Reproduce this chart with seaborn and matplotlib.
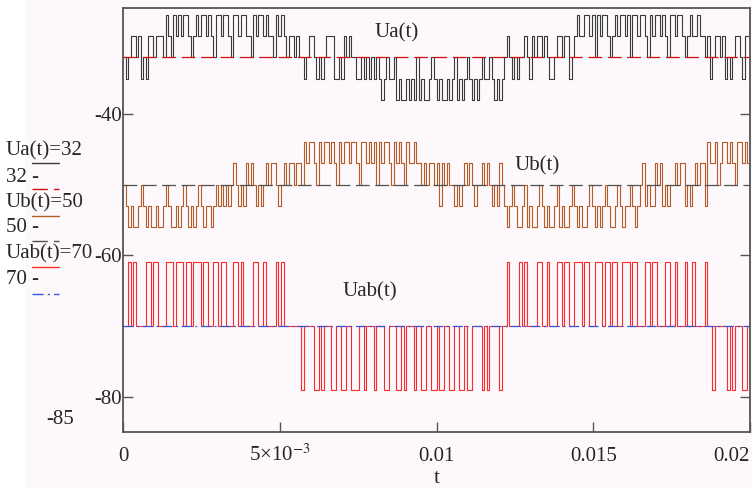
import numpy as np
import pandas as pd
import matplotlib
matplotlib.use("Agg")
import matplotlib.pyplot as plt
from matplotlib.lines import Line2D
from matplotlib.patches import Rectangle
import seaborn as sns

# level codes, one character per time step (0.02 s span)
ua_code = ("21233231213323332"
           "4324343443" "2343443432" "4434432443" "4433243443" "43324343"
           "2332322" "12332121233" "311213232" "21121212"
           "1210121120" "1001010201" "0012101001" "0120101210" "1012112101" "01"
           "23212122321" "32332321123323312"
           "3433443424" "3443234344" "3424434432" "4344343244" "3443234334" "3323"
           "12332312123321331")
ub_code = ("2101001210" "1001001210" "0101210101" "21011012"
           "12121" "2321213232" "12123233212" "32332332"
           "4344324344" "3432434434" "4324434342" "4344324343" "24334332"
           "323323" "1323221212" "3232122323" "2121321"
           "0121001201" "0012101001" "2010012101" "0012101012" "1001210112" "101"
           "2312113231" "2122323312" "1232331"
           "433423443432443434")
uab_code = ("1121211112" "2122111222" "1222122122" "2122112212" "2111221211" "1122112111" "12121"
            "111111"
            "0111100101" "1100110011" "0001101110" "1110011100" "1011101100" "1100100110"
            "0110010011" "1101011110" "1"
            "1"
            "2111121211" "1122112111" "2212211222" "1221122212" "2122112221" "2211122122"
            "1112211211" "1211211112"
            "1"
            "10111110101110010")

# voltage value of each code
ua_levels = [-38, -35, -32, -29, -26]
ub_levels = [-56, -53, -50, -47, -44]
uab_levels = [-79, -70, -61]
ref_levels = {"32": -32, "50": -50, "70": -70}

t_end = 0.02
x_ticks = [0, 0.005, 0.01, 0.015, 0.02]
x_ticklabels = ["0", "5\u00d710$^{-3}$", "0.01", "0.015", "0.02"]
y_ticks = [-80, -60, -40]
y_ticklabels = ["-80", "-60", "-40"]


def trace(code, levels):
    t = np.linspace(0, t_end, len(code))
    v = np.array([levels[int(c)] for c in code], dtype=float)
    return pd.DataFrame({"t": t, "v": v})


ua = trace(ua_code, ua_levels)
ub = trace(ub_code, ub_levels)
uab = trace(uab_code, uab_levels)

sns.set_theme(style="white")
plt.rcParams["font.family"] = ["Liberation Serif", "DejaVu Serif"]
plt.rcParams["mathtext.fontset"] = "stix"
fs = 15

W, H = 752, 488
bg = "#fcf8fc"
fig = plt.figure(figsize=(W / 100, H / 100), dpi=100, facecolor=bg)
ax = fig.add_axes([123 / W, 1 - 432 / H, 627 / W, 424 / H])
ax.set_facecolor(bg)
fig.add_artist(Rectangle((0, 0), 25 / W, 1, transform=fig.transFigure,
                         facecolor="white", edgecolor="none", zorder=-5))

c_ua = "#3a3a3a"
c_ub = "#b65a26"
c_uab = "#ff2a2a"
c32 = "#d01010"
c50 = "#505050"
c70 = "#3355dd"
dash = (0, (11, 4.5))
dashdot = (0, (8, 3, 1.5, 3))


def const(val):
    return pd.DataFrame({"t": ua["t"], "v": np.full(len(ua), val)})


sns.lineplot(data=ua, x="t", y="v", ax=ax, color=c_ua, lw=0.8, drawstyle="steps-post",
             estimator=None, sort=False, legend=False)
sns.lineplot(data=const(ref_levels["32"]), x="t", y="v", ax=ax, color=c32, lw=0.9,
             estimator=None, legend=False)
ax.lines[-1].set_linestyle(dash)
sns.lineplot(data=ub, x="t", y="v", ax=ax, color=c_ub, lw=0.8, drawstyle="steps-post",
             estimator=None, sort=False, legend=False)
sns.lineplot(data=const(ref_levels["50"]), x="t", y="v", ax=ax, color=c50, lw=0.9,
             estimator=None, legend=False)
ax.lines[-1].set_linestyle(dash)
sns.lineplot(data=uab, x="t", y="v", ax=ax, color=c_uab, lw=0.8, drawstyle="steps-post",
             estimator=None, sort=False, legend=False)
sns.lineplot(data=const(ref_levels["70"]), x="t", y="v", ax=ax, color=c70, lw=0.9,
             estimator=None, legend=False)
ax.lines[-1].set_linestyle(dashdot)

ax.set_xlim(0, t_end)
ax.set_ylim(-85, -25)
ax.set_xticks(x_ticks)
ax.set_xticklabels(x_ticklabels, fontsize=fs)
for lab in ax.get_xticklabels():
    lab.set_verticalalignment("baseline")
ax.get_xticklabels()[-1].set_horizontalalignment("right")
ax.set_yticks(y_ticks)
ax.set_yticklabels(y_ticklabels, fontsize=fs)
ax.tick_params(axis="x", direction="in", length=7, width=1, color="#555555",
               bottom=True, top=False, pad=21)
ax.tick_params(axis="y", direction="in", length=7, width=1, color="#555555",
               left=True, right=True, pad=1)
ax.set_xlabel("t", fontsize=fs, labelpad=2)
ax.set_ylabel("")
for s in ax.spines.values():
    s.set_color("#555555")
    s.set_linewidth(1.3)

# in-plot trace names
ax.text(0.00874, -28.5, "Ua(t)", fontsize=fs, ha="center", va="center")
ax.text(0.01320, -47.3, "Ub(t)", fontsize=fs, ha="center", va="center")
ax.text(0.00788, -65.1, "Uab(t)", fontsize=fs, ha="center", va="center")


def fx(x):
    return x / W


def fy(y):
    return 1 - y / H


# left side trace list (Mathcad style)
fig.text(fx(6), fy(151), "Ua(t)=32", fontsize=fs, va="center")
fig.text(fx(6), fy(178), "32 -", fontsize=fs, va="center")
fig.text(fx(6), fy(203), "Ub(t)=50", fontsize=fs, va="center")
fig.text(fx(6), fy(228), "50 -", fontsize=fs, va="center")
fig.text(fx(6), fy(254), "Uab(t)=70", fontsize=fs, va="center")
fig.text(fx(6), fy(280), "70 -", fontsize=fs, va="center")
fig.text(fx(74), fy(420), "-85", fontsize=fs, ha="right", va="center")

samples = [(163, c_ua, "-"), (189, c32, dash), (216, c_ub, "-"),
           (241, c50, dash), (267, c_uab, "-"), (294, c70, dashdot)]
for y, c, ls in samples:
    fig.add_artist(Line2D([fx(32), fx(59)], [fy(y), fy(y)], color=c, lw=1.0,
                          linestyle=ls, transform=fig.transFigure))

fig.savefig("out.png", dpi=100, facecolor=bg)
